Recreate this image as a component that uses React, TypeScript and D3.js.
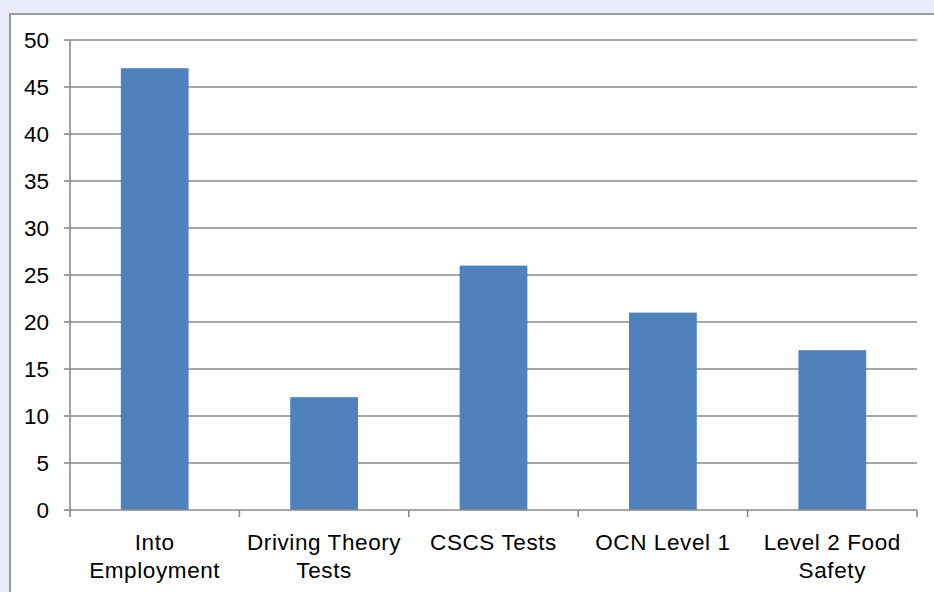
import React from "react";
import * as d3 from "d3";

const categories = ["Into Employment", "Driving Theory Tests", "CSCS Tests", "OCN Level 1", "Level 2 Food Safety"];
const labelLines = [["Into", "Employment"], ["Driving Theory", "Tests"], ["CSCS Tests"], ["OCN Level 1"], ["Level 2 Food", "Safety"]];
const values = [47, 12, 26, 21, 17];
const yTicks = [0, 5, 10, 15, 20, 25, 30, 35, 40, 45, 50];

const App: React.FC = () => {
  const width = 934;
  const height = 592;
  const margin = { top: 40, right: 17, bottom: 82, left: 70 };

  const xScale = d3
    .scaleBand()
    .domain(categories)
    .range([margin.left, width - margin.right])
    .paddingInner(0.6)
    .paddingOuter(0.3);

  // band boundaries for tick marks
  const step = (width - margin.right - margin.left) / categories.length;

  const yScale = d3
    .scaleLinear()
    .domain([0, 50])
    .range([height - margin.bottom, margin.top]);

  const font = "'Liberation Sans', Arial, sans-serif";

  return (
    <div style={{ position: "fixed", left: 0, top: 0 }}>
      <svg width={width} height={height} style={{ display: "block" }}>
        <rect x={0} y={0} width={width} height={height} fill="#e9ebfa" />
        <rect x={10} y={14} width={width} height={height} fill="#ffffff" stroke="#9a9a9a" strokeWidth={2} />

        {/* Gridlines and y labels */}
        {yTicks.map((t) => (
          <g key={t}>
            {t > 0 && (
              <line x1={margin.left} x2={width - margin.right} y1={yScale(t)} y2={yScale(t)} stroke="#8a8a8a" strokeWidth={1.6} />
            )}
            <line x1={margin.left - 6} x2={margin.left} y1={yScale(t)} y2={yScale(t)} stroke="#8a8a8a" strokeWidth={1.6} />
            <text x={49} y={yScale(t)} textAnchor="end" dominantBaseline="central" fontSize={22.5} fontFamily={font} fill="#000">
              {t}
            </text>
          </g>
        ))}

        {/* Bars */}
        {categories.map((c, i) => (
          <rect
            key={c}
            x={xScale(c)!}
            y={yScale(values[i])}
            width={xScale.bandwidth()}
            height={yScale(0) - yScale(values[i])}
            fill="#4f81bd"
          />
        ))}

        {/* Axes */}
        <line x1={margin.left} x2={margin.left} y1={margin.top} y2={yScale(0)} stroke="#8a8a8a" strokeWidth={1.6} />
        <line x1={margin.left} x2={width - margin.right} y1={yScale(0)} y2={yScale(0)} stroke="#8a8a8a" strokeWidth={1.6} />
        {d3.range(categories.length + 1).map((i) => (
          <line
            key={i}
            x1={margin.left + i * step}
            x2={margin.left + i * step}
            y1={yScale(0)}
            y2={yScale(0) + 7}
            stroke="#8a8a8a"
            strokeWidth={1.6}
          />
        ))}

        {/* X labels */}
        {categories.map((c, i) => (
          <text
            key={c}
            x={xScale(c)! + xScale.bandwidth() / 2}
            y={550}
            textAnchor="middle"
            fontSize={22.5}
            letterSpacing={0.6}
            fontFamily={font}
            fill="#000"
          >
            {labelLines[i].map((l, j) => (
              <tspan key={j} x={xScale(c)! + xScale.bandwidth() / 2} dy={j === 0 ? 0 : 28}>
                {l}
              </tspan>
            ))}
          </text>
        ))}
      </svg>
    </div>
  );
};

export default App;
